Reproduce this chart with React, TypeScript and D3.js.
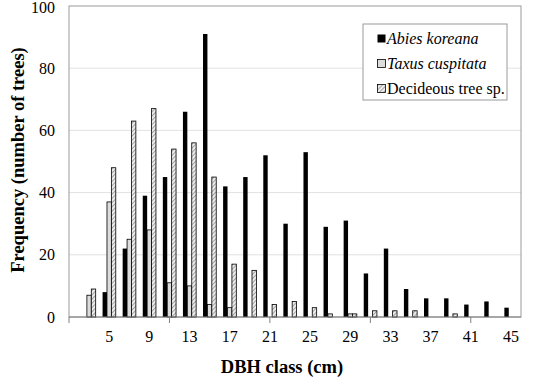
import React from "react";
import * as d3 from "d3";

const classes = [3, 5, 7, 9, 11, 13, 15, 17, 19, 21, 23, 25, 27, 29, 31, 33, 35, 37, 39, 41, 43, 45];
const abies = [0, 8, 22, 39, 45, 66, 91, 42, 45, 52, 30, 53, 29, 31, 14, 22, 9, 6, 6, 4, 5, 3];
const taxus = [7, 37, 25, 28, 11, 10, 4, 3, 0, 0, 0, 0, 1, 1, 0, 0, 0, 0, 0, 0, 0, 0];
const deciduous = [9, 48, 63, 67, 54, 56, 45, 17, 15, 4, 5, 3, 0, 1, 2, 2, 2, 0, 1, 0, 0, 0];
const xLabels = [5, 9, 13, 17, 21, 25, 29, 33, 37, 41, 45];
const xTickMarks = [1, 11, 21, 31, 41];
const yTicks = [0, 20, 40, 60, 80, 100];
const seriesNames = ["Abies koreana", "Taxus cuspitata", "Decideous tree sp."];
const seriesItalic = [true, true, false];

const W = 533;
const H = 379;
const left = 69;
const right = 521;
const top = 6;
const bottom = 317;
const font = "Liberation Serif, Tinos, Times New Roman, Times, serif";

export default function App() {
  const x = d3.scaleLinear().domain([1, 46]).range([left, right]);
  const y = d3.scaleLinear().domain([0, 100]).range([bottom, top]);
  const barW = 4.4;
  const series = [abies, taxus, deciduous];
  const fills = ["#000000", "#dcdcdc", "url(#hatch)"];

  return (
    <svg width={W} height={H} style={{ position: "absolute", left: 0, top: 0, background: "#fff" }}>
      <defs>
        <pattern id="hatch" patternUnits="userSpaceOnUse" width="3" height="3" patternTransform="rotate(45)">
          <rect width="3" height="3" fill="#ececec" />
          <line x1="0" y1="0" x2="0" y2="3" stroke="#666" strokeWidth="1.1" />
        </pattern>
      </defs>
      <rect x={0} y={0} width={W} height={H} fill="#fff" />
      {yTicks.filter((t) => t > 0 && t < 100).map((t) => (
        <line key={t} x1={left} x2={right} y1={y(t)} y2={y(t)} stroke="#e2e2e2" strokeWidth={1} />
      ))}
      <rect x={left} y={top} width={right - left} height={bottom - top} fill="none" stroke="#9a9a9a" strokeWidth={1} />
      {series.map((vals, si) =>
        vals.map((v, i) =>
          v > 0 ? (
            <rect
              key={`${si}-${i}`}
              x={x(classes[i]) + (si - 1.5) * barW}
              y={y(v)}
              width={barW}
              height={y(0) - y(v)}
              fill={fills[si]}
              stroke="#000"
              strokeWidth={si === 0 ? 0 : 0.8}
            />
          ) : null
        )
      )}
      <line x1={left} x2={right} y1={bottom} y2={bottom} stroke="#808080" strokeWidth={1} />
      {xTickMarks.map((t) => (
        <line key={t} x1={x(t)} x2={x(t)} y1={bottom} y2={bottom + 6} stroke="#808080" strokeWidth={1} />
      ))}
      {xLabels.map((t) => (
        <text key={t} x={x(t)} y={342} textAnchor="middle" fontFamily={font} fontSize={16} fill="#000">
          {t}
        </text>
      ))}
      {yTicks.map((t) => (
        <text key={t} x={55} y={Math.max(y(t) + 5.5, 13)} textAnchor="end" fontFamily={font} fontSize={16} fill="#000">
          {t}
        </text>
      ))}
      <text
        transform={`translate(24,160) rotate(-90)`}
        textAnchor="middle"
        fontFamily={font}
        fontSize={18.5}
        fontWeight="bold"
        fill="#000"
      >
        Frequency (number of trees)
      </text>
      <text x={282} y={373} textAnchor="middle" fontFamily={font} fontSize={18.5} fontWeight="bold" fill="#000">
        DBH class (cm)
      </text>
      <rect x={363} y={24} width={144} height={76} fill="#fff" stroke="#9a9a9a" strokeWidth={1} />
      {seriesNames.map((name, i) => (
        <g key={name}>
          <rect
            x={377.5}
            y={34.5 + i * 25}
            width={8}
            height={8}
            fill={fills[i]}
            stroke="#000"
            strokeWidth={i === 0 ? 0 : 0.8}
          />
          <text
            x={387}
            y={43.5 + i * 25}
            fontFamily={font}
            fontSize={16}
            fontStyle={seriesItalic[i] ? "italic" : "normal"}
            fill="#000"
          >
            {name}
          </text>
        </g>
      ))}
    </svg>
  );
}
